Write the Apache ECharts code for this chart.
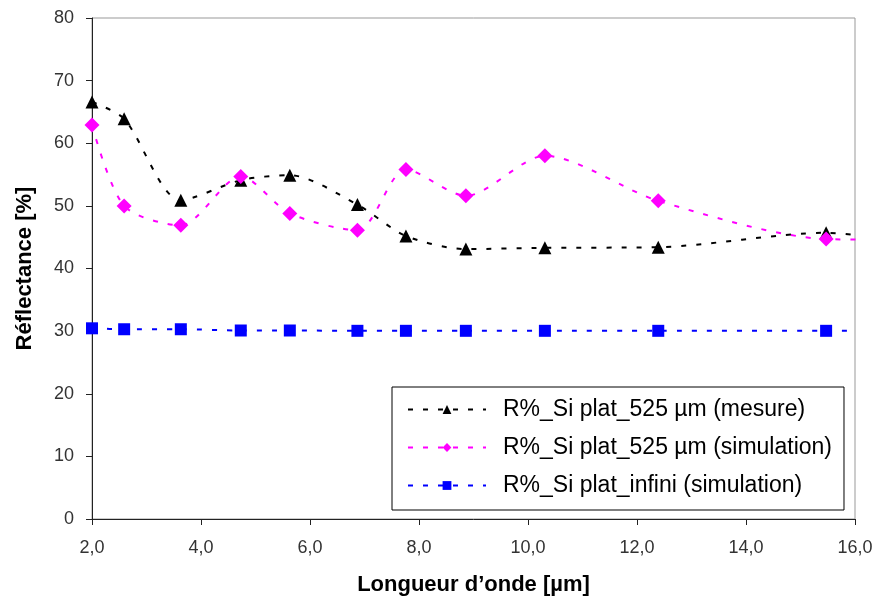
<!DOCTYPE html>
<html>
<head>
<meta charset="utf-8">
<script src="https://cdn.jsdelivr.net/npm/echarts@6/dist/echarts.min.js"></script>
<style>
html,body{margin:0;padding:0;background:#fff;}
#chart{width:878px;height:601px;}
</style>
</head>
<body>
<div id="chart"></div>
<script>
// Wavelengths (µm); last point lies beyond the visible axis and is clipped
var wavelengths = [2.0, 2.59, 3.63, 4.73, 5.63, 6.87, 7.76, 8.86, 10.31, 12.39, 15.47, 16.6];
var mesure525 = [66.6, 63.9, 50.9, 54.1, 54.9, 50.2, 45.2, 43.1, 43.3, 43.4, 45.7, 44.7];
var simulation525 = [62.9, 50.0, 46.9, 54.7, 48.8, 46.1, 55.8, 51.6, 58.0, 50.8, 44.7, 44.6];
var simulationInfini = [30.45, 30.3, 30.3, 30.1, 30.1, 30.05, 30.05, 30.05, 30.05, 30.05, 30.05, 30.05];
var seriesNames = [
  'R%_Si plat_525 µm (mesure)',
  'R%_Si plat_525 µm (simulation)',
  'R%_Si plat_infini (simulation)'
];
var xTicks = {min: 2, max: 16, interval: 2};
var yTicks = {min: 0, max: 80, interval: 10};

function pairs(xs, ys) { return xs.map(function (x, i) { return [x, ys[i]]; }); }

var chart = echarts.init(document.getElementById('chart'), null, {renderer: 'canvas'});
var font = 'Liberation Sans, Arial, sans-serif';

function mkSeries(name, data, color, symbol, size) {
  return {
    name: name,
    type: 'line',
    data: data,
    smooth: 0.28,
    clip: true,
    symbol: symbol,
    symbolSize: size,
    showAllSymbol: true,
    itemStyle: {color: color},
    lineStyle: {color: color, width: 2, type: [5, 10]},
    emphasis: {disabled: true},
    animation: false
  };
}

chart.setOption({
  animation: false,
  backgroundColor: '#fff',
  grid: {left: 92, top: 18, right: 23, bottom: 82, show: true, borderColor: '#999', borderWidth: 1},
  xAxis: {
    type: 'value',
    min: xTicks.min, max: xTicks.max, interval: xTicks.interval,
    name: 'Longueur d’onde [µm]',
    nameLocation: 'middle',
    nameGap: 55,
    nameTextStyle: {fontFamily: font, fontSize: 22, fontWeight: 'bold', color: '#000'},
    axisLine: {show: true, onZero: false, lineStyle: {color: '#222', width: 1}},
    axisTick: {show: true, inside: false, length: 6, lineStyle: {color: '#222'}},
    axisLabel: {
      margin: 20, fontFamily: font, fontSize: 18, color: '#333',
      formatter: function (v) { return v.toFixed(1).replace('.', ','); }
    },
    splitLine: {show: false}
  },
  yAxis: {
    type: 'value',
    min: yTicks.min, max: yTicks.max, interval: yTicks.interval,
    name: 'Réflectance [%]',
    nameLocation: 'middle',
    nameGap: 56,
    nameTextStyle: {fontFamily: font, fontSize: 22, fontWeight: 'bold', color: '#000'},
    axisLine: {show: true, onZero: false, lineStyle: {color: '#222', width: 1}},
    axisTick: {show: true, inside: false, length: 6, lineStyle: {color: '#222'}},
    axisLabel: {margin: 18, fontFamily: font, fontSize: 18, color: '#333'},
    splitLine: {show: false}
  },
  legend: {
    show: true,
    orient: 'vertical',
    left: 392,
    top: 387,
    backgroundColor: '#fff',
    borderColor: '#000',
    borderWidth: 1,
    borderRadius: 0,
    padding: [11, 12, 13, 15],
    itemWidth: 78,
    itemHeight: 11,
    itemGap: 15,
    textStyle: {fontFamily: font, fontSize: 23, color: '#000', padding: [0, 0, 0, 12]},
    data: seriesNames
  },
  series: [
    mkSeries(seriesNames[0], pairs(wavelengths, mesure525), '#000000', 'triangle', 13),
    mkSeries(seriesNames[1], pairs(wavelengths, simulation525), '#ff00ff', 'diamond', 15),
    mkSeries(seriesNames[2], pairs(wavelengths, simulationInfini), '#0000ff', 'rect', 12)
  ]
});
</script>
</body>
</html>
